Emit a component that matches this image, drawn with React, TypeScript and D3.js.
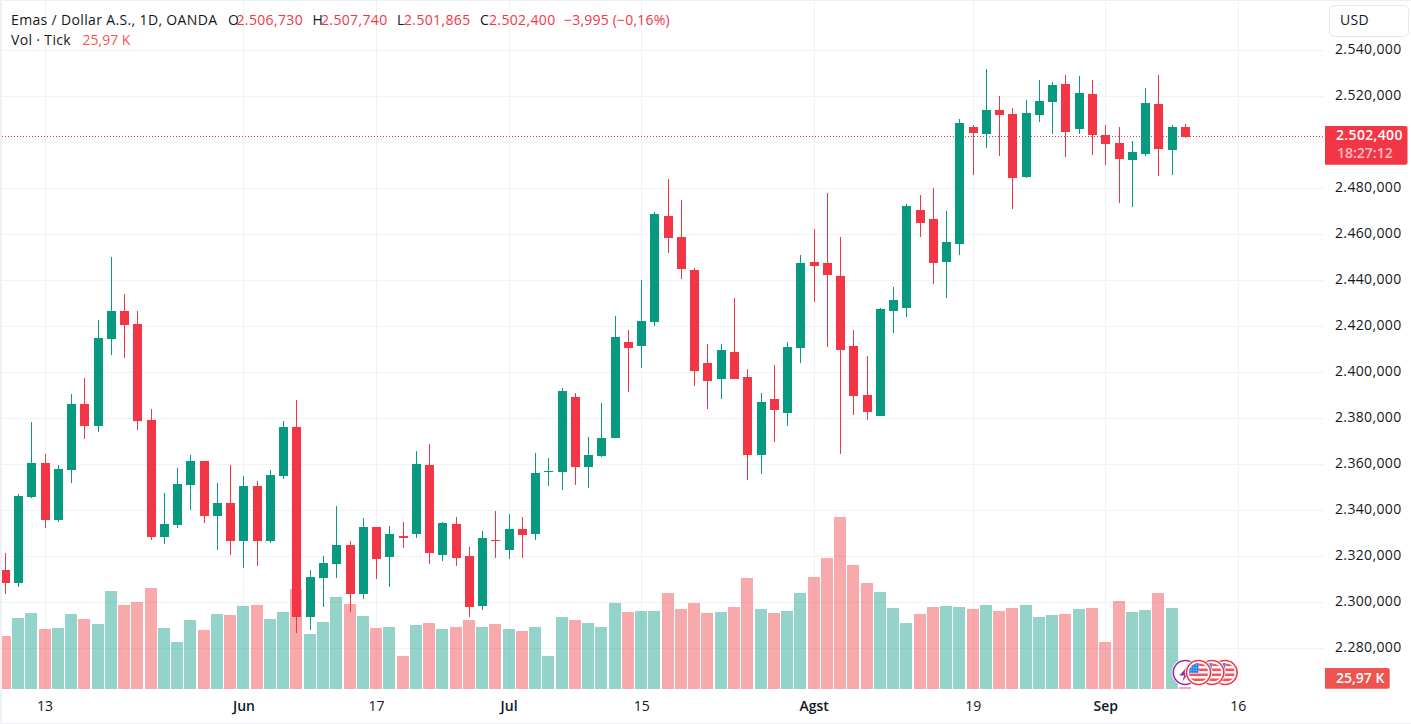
import React from "react";
import * as d3 from "d3";

// daily candles: [open, high, low, close]
const ohlc: number[][] = [
  [2314.0, 2321.4, 2303.6, 2308.4],
  [2308.4, 2347.0, 2306.6, 2346.2],
  [2345.7, 2378.3, 2345.3, 2360.5],
  [2360.5, 2364.4, 2332.3, 2335.7],
  [2335.7, 2359.6, 2334.9, 2357.9],
  [2357.5, 2390.5, 2351.8, 2386.2],
  [2386.2, 2397.5, 2370.9, 2376.6],
  [2376.6, 2422.7, 2374.0, 2414.8],
  [2414.4, 2450.0, 2407.4, 2426.6],
  [2426.6, 2434.0, 2406.1, 2420.5],
  [2420.9, 2426.6, 2374.9, 2378.8],
  [2379.2, 2384.0, 2327.0, 2328.3],
  [2328.3, 2347.5, 2325.3, 2334.0],
  [2333.6, 2358.3, 2332.3, 2351.4],
  [2350.9, 2364.0, 2340.1, 2361.4],
  [2361.4, 2361.4, 2334.4, 2337.5],
  [2337.5, 2351.8, 2322.7, 2343.1],
  [2343.1, 2359.6, 2320.5, 2326.6],
  [2326.6, 2354.9, 2314.9, 2350.5],
  [2350.5, 2352.7, 2315.7, 2326.6],
  [2326.6, 2357.5, 2325.7, 2355.3],
  [2354.9, 2378.8, 2353.6, 2376.2],
  [2376.2, 2387.9, 2286.6, 2293.6],
  [2293.6, 2314.0, 2287.9, 2311.0],
  [2310.5, 2320.1, 2297.9, 2317.0],
  [2316.6, 2341.8, 2310.5, 2324.9],
  [2324.9, 2326.6, 2295.8, 2303.6],
  [2303.6, 2336.6, 2301.4, 2332.7],
  [2332.7, 2332.7, 2310.1, 2318.8],
  [2319.7, 2333.1, 2306.6, 2329.7],
  [2328.8, 2334.9, 2323.6, 2327.9],
  [2329.7, 2365.7, 2327.9, 2360.1],
  [2359.6, 2368.8, 2316.6, 2321.4],
  [2320.5, 2334.9, 2317.9, 2334.4],
  [2334.0, 2337.0, 2315.7, 2319.2],
  [2320.1, 2324.0, 2293.6, 2297.9],
  [2298.4, 2331.0, 2296.6, 2327.9],
  [2327.0, 2339.7, 2319.2, 2326.6],
  [2322.7, 2338.3, 2318.8, 2331.8],
  [2331.8, 2337.0, 2319.2, 2329.2],
  [2329.7, 2364.9, 2327.0, 2356.2],
  [2356.6, 2362.7, 2350.5, 2357.0],
  [2356.6, 2393.1, 2348.8, 2391.8],
  [2389.2, 2390.9, 2350.9, 2358.8],
  [2358.8, 2371.8, 2349.6, 2364.0],
  [2363.6, 2386.6, 2363.1, 2371.4],
  [2371.4, 2424.4, 2371.4, 2415.3],
  [2413.1, 2418.3, 2391.4, 2410.5],
  [2411.4, 2440.0, 2401.8, 2422.2],
  [2421.8, 2469.6, 2420.1, 2468.7],
  [2467.9, 2483.9, 2451.8, 2458.3],
  [2458.7, 2474.8, 2440.5, 2444.8],
  [2444.4, 2445.3, 2394.0, 2400.5],
  [2404.0, 2412.2, 2384.0, 2396.1],
  [2397.0, 2412.2, 2388.3, 2409.6],
  [2408.8, 2432.2, 2397.0, 2397.0],
  [2397.9, 2401.4, 2353.1, 2364.0],
  [2364.0, 2390.9, 2355.7, 2387.0],
  [2388.3, 2403.1, 2369.6, 2383.5],
  [2382.2, 2413.1, 2376.6, 2410.9],
  [2410.5, 2450.9, 2404.0, 2447.4],
  [2447.9, 2462.2, 2430.5, 2446.1],
  [2447.4, 2477.9, 2410.9, 2442.2],
  [2441.8, 2458.7, 2364.4, 2409.6],
  [2411.4, 2418.3, 2381.4, 2389.6],
  [2390.1, 2407.0, 2379.2, 2382.7],
  [2380.9, 2427.9, 2380.9, 2427.4],
  [2426.6, 2437.0, 2417.0, 2431.3],
  [2427.9, 2473.1, 2424.0, 2472.2],
  [2470.5, 2477.0, 2458.7, 2464.8],
  [2466.6, 2480.0, 2438.3, 2447.4],
  [2447.9, 2470.0, 2432.2, 2456.6],
  [2455.7, 2510.0, 2450.9, 2508.3],
  [2506.5, 2507.4, 2485.7, 2503.9],
  [2503.5, 2531.7, 2497.4, 2513.9],
  [2513.9, 2520.0, 2493.9, 2511.8],
  [2512.2, 2514.8, 2470.9, 2484.4],
  [2484.8, 2518.3, 2484.4, 2512.6],
  [2511.8, 2527.0, 2508.7, 2517.8],
  [2517.4, 2526.1, 2503.5, 2524.8],
  [2525.2, 2529.1, 2493.5, 2504.4],
  [2505.7, 2528.7, 2503.5, 2521.3],
  [2520.9, 2527.0, 2494.4, 2503.1],
  [2503.1, 2507.4, 2490.0, 2499.1],
  [2499.6, 2506.5, 2473.5, 2492.6],
  [2492.2, 2500.5, 2471.8, 2495.7],
  [2494.8, 2523.5, 2493.9, 2517.0],
  [2516.5, 2529.1, 2485.2, 2497.0],
  [2496.5, 2507.4, 2485.7, 2506.5],
  [2506.73, 2507.74, 2501.865, 2502.4],
];

// tick volume in thousands
const volumes = [
  687, 920, 985, 778, 791, 972, 907, 842, 1270, 1089,
  1128, 1309, 791, 609, 894, 765, 972, 959, 1076, 1089,
  907, 998, 1296, 713, 868, 1192, 1102, 946, 791, 804,
  428, 829, 855, 778, 804, 894, 804, 842, 778, 752,
  804, 428, 933, 894, 855, 804, 1115, 998, 1011, 1011,
  1244, 1037, 1115, 985, 998, 1063, 1439, 1037, 985, 1011,
  1244, 1452, 1698, 2229, 1607, 1374, 1257, 1050, 855, 972,
  1063, 1076, 1063, 1037, 1089, 1011, 1050, 1089, 933, 959,
  972, 1037, 1050, 609, 1140, 998, 1024, 1244, 1050, 25.97,
];

const priceTicks = [2280, 2300, 2320, 2340, 2360, 2380, 2400, 2420, 2440, 2460, 2480, 2500, 2520, 2540];
const timeTicks = [
  { index: 3, label: "13", major: false },
  { index: 18, label: "Jun", major: true },
  { index: 28, label: "17", major: false },
  { index: 38, label: "Jul", major: true },
  { index: 48, label: "15", major: false },
  { index: 61, label: "Agst", major: true },
  { index: 73, label: "19", major: false },
  { index: 83, label: "Sep", major: true },
  { index: 93, label: "16", major: false },
];
const lastPrice = 2502.4;
const legendValues = [
  { key: "O", text: "2.506,730", keyX: 228, x: 236.5 },
  { key: "H", text: "2.507,740", keyX: 312.5, x: 321 },
  { key: "L", text: "2.501,865", keyX: 397, x: 404 },
  { key: "C", text: "2.502,400", keyX: 480, x: 489 },
];
const eventIndexes = [90, 91, 92]; // calendar markers past the last bar

const width = 1411;
const height = 724;
const paneRight = 1324;
const volumeBase = 689;
const UP = "#089981";
const DOWN = "#F23645";
const TEXT = "#131722";
const GRID = "#f1f2f5";
const BAND = "#eef0f6";
const FONT = "'Open Sans', sans-serif";
const SPACING = 0.35;

const fmt = d3.formatLocale({
  decimal: ",",
  thousands: ".",
  grouping: [3],
  currency: ["", ""],
}).format(",.3f");

const x = d3.scaleLinear().domain([0, 89]).range([5.3, 1185.3]);
const y = d3.scaleLinear().domain([2280, 2540]).range([648.3, 50]);
const yVol = d3.scaleLinear().domain([0, 2300]).range([volumeBase, volumeBase - 177.5]);

// flag badge used for the US calendar events
const FlagBadge: React.FC<{ cx: number; cy: number; id: string }> = ({ cx, cy, id }) => {
  const stripes = d3.range(-9, 10, 5);
  return (
    <g transform={`translate(${cx},${cy})`}>
      <circle r={13.5} fill="#fff" />
      <circle r={12} fill="#fff" stroke="#F23645" strokeWidth={1.6} />
      <clipPath id={id}>
        <circle r={9.6} />
      </clipPath>
      <g clipPath={`url(#${id})`}>
        <rect x={-10} y={-10} width={20} height={20} fill="#fff" />
        {stripes.map((s) => (
          <rect key={s} x={-10} y={s} width={20} height={2.6} fill="#F7525F" />
        ))}
        <rect x={-10} y={-10} width={10} height={10.5} fill="#2F80ED" />
        {d3.range(-8, 0, 2.6).map((a) =>
          d3.range(-8, 0, 2.6).map((b) => (
            <rect key={`${a}${b}`} x={a} y={b} width={1} height={1} fill="#cfe3ff" />
          ))
        )}
      </g>
    </g>
  );
};

const App: React.FC = () => {
  const lastY = y(lastPrice);
  return (
    <>
      <style>{`html,body{margin:0;padding:0;background:#fff;overflow:hidden}`}</style>
      <svg
        width={width}
        height={height}
        viewBox={`0 0 ${width} ${height}`}
        style={{ display: "block", fontFamily: FONT }}
      >
        <rect width={width} height={height} fill="#fff" />

        {/* grid */}
        {priceTicks.map((t) => (
          <line key={t} x1={2} x2={paneRight} y1={Math.round(y(t)) + 0.5} y2={Math.round(y(t)) + 0.5} stroke={GRID} />
        ))}
        {timeTicks.map((t) => (
          <line
            key={t.label}
            x1={Math.floor(x(t.index)) + 0.5}
            x2={Math.floor(x(t.index)) + 0.5}
            y1={1}
            y2={volumeBase}
            stroke={GRID}
          />
        ))}

        {/* volume */}
        {volumes.map((v, i) => {
          const up = ohlc[i][3] >= ohlc[i][0];
          const left = Math.max(2, Math.floor(x(i)) - 6);
          return (
            <rect
              key={i}
              x={left}
              y={yVol(v)}
              width={Math.floor(x(i)) + 6 - left}
              height={volumeBase - yVol(v)}
              fill={up ? UP : "#F0484C"}
              fillOpacity={up ? 0.43 : 0.47}
            />
          );
        })}

        {/* last price line */}
        <line
          x1={2}
          x2={paneRight}
          y1={Math.floor(lastY) + 0.5}
          y2={Math.floor(lastY) + 0.5}
          stroke={DOWN}
          strokeDasharray="1 2"
        />

        {/* candles */}
        {ohlc.map(([o, h, l, c], i) => {
          const color = c >= o ? UP : DOWN;
          const cx = Math.floor(x(i));
          const top = Math.round(y(Math.max(o, c)));
          const bottom = Math.max(top + 1, Math.round(y(Math.min(o, c))));
          return (
            <g key={i} fill={color}>
              <rect x={cx} y={Math.round(y(h))} width={1} height={Math.round(y(l)) - Math.round(y(h))} />
              <rect x={Math.max(2, cx - 4)} y={top} width={cx + 5 - Math.max(2, cx - 4)} height={bottom - top} />
            </g>
          );
        })}

        {/* event markers */}
        <g transform={`translate(${x(89)},672.5)`}>
          <circle r={13.5} fill="#fff" />
          <circle r={12} fill="#fff" stroke="#9C27B0" strokeWidth={1.6} />
          <path d="M2 -6 L-6 3 L-1 3 L-3 9 L4 0 L-1 0 Z" fill="#9C27B0" />
        </g>
        {eventIndexes
          .map((ix, n) => ({ ix, n }))
          .reverse()
          .map(({ ix, n }) => (
            <FlagBadge key={n} id={`flag${n}`} cx={x(ix)} cy={672.5} />
          ))}

        {/* frame */}
        <rect x={0} y={0} width={2} height={height} fill={BAND} />
        <rect x={0} y={0} width={width} height={1} fill={BAND} />
        <rect x={0} y={723} width={width} height={1} fill={BAND} />

        {/* price axis */}
        <rect x={1329.5} y={5.5} width={79} height={31} rx={5} fill="#fff" stroke="#e5e7ef" />
        <text x={1340} y={25} fontSize={14} fill={TEXT} letterSpacing={SPACING}>USD</text>
        {priceTicks.filter((t) => t !== 2500).map((t) => (
          <text key={t} x={1335} y={y(t) - 0.8} dy="0.35em" fontSize={14} fill={TEXT} letterSpacing={SPACING}>
            {fmt(t)}
          </text>
        ))}
        <path d="M1325 126 H1405.5 a2 2 0 0 1 2 2 V162.7 a2 2 0 0 1 -2 2 H1325 Z" fill={DOWN} />
        <text x={1336} y={135.5} dy="0.35em" fontSize={14} fontWeight={600} fill="#fff" letterSpacing={SPACING}>{fmt(lastPrice)}</text>
        <text x={1337} y={153.5} dy="0.35em" fontSize={14} fontWeight={600} fill="#fbc0c5">18:27:12</text>
        <path d="M1325 668 H1387.7 a2 2 0 0 1 2 2 V686.7 a2 2 0 0 1 -2 2 H1325 Z" fill="#EF5350" />
        <text x={1336} y={678} dy="0.35em" fontSize={14} fontWeight={600} fill="#fff">25,97 K</text>

        {/* time axis */}
        {timeTicks.map((t) => (
          <text
            key={t.label}
            x={x(t.index)}
            y={706}
            dy="0.35em"
            fontSize={14}
            textAnchor="middle"
            fontWeight={t.major ? 600 : 400}
            fill={TEXT}
          >
            {t.label}
          </text>
        ))}

        {/* legend */}
        <text x={11} y={20} dy="0.35em" fontSize={14} fill={TEXT} letterSpacing={SPACING}>Emas / Dollar A.S., 1D, OANDA</text>
        {legendValues.map((d) => (
          <g key={d.key}>
            <text x={d.keyX} y={20} dy="0.35em" fontSize={14} fill={TEXT}>{d.key}</text>
            <text x={d.x} y={20} dy="0.35em" fontSize={14} fill={DOWN} letterSpacing={SPACING}>{d.text}</text>
          </g>
        ))}
        <text x={564} y={20} dy="0.35em" fontSize={14} fill={DOWN} letterSpacing={0.2}>−3,995 (−0,16%)</text>
        <text x={11} y={40} dy="0.35em" fontSize={14} fill={TEXT} letterSpacing={SPACING}>Vol · Tick</text>
        <text x={82.5} y={40} dy="0.35em" fontSize={14} fill="#FF5252">25,97 K</text>
      </svg>
    </>
  );
};

export default App;
